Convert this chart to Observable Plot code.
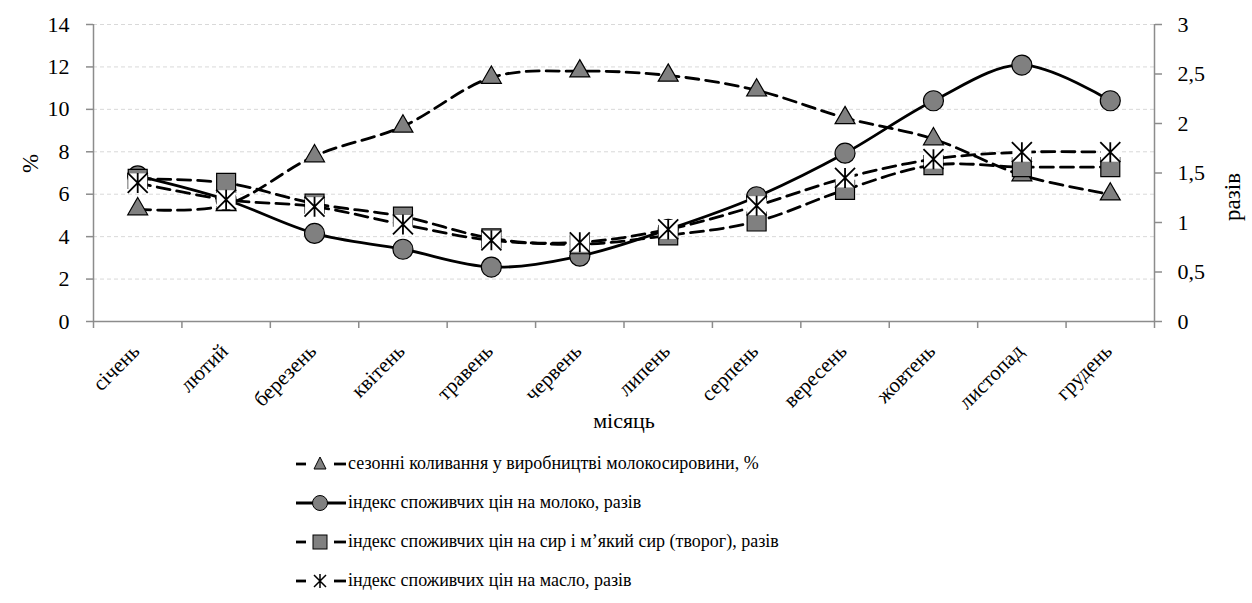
<!DOCTYPE html>
<html><head><meta charset="utf-8">
<script src="https://cdn.jsdelivr.net/npm/d3@7"></script>
<script src="https://cdn.jsdelivr.net/npm/@observablehq/plot@0.6"></script>
<style>
body{margin:0;background:#fff;}
#legend{margin-left:296px;margin-top:4px;}
.row{display:flex;align-items:center;height:39px;font-size:18px;color:#000;}
.row svg{margin-right:2px;flex:none}
</style></head><body>
<div id="chart"></div>
<div id="legend"></div>
<script>
const months = ["січень","лютий","березень","квітень","травень","червень","липень","серпень","вересень","жовтень","листопад","грудень"];
const seasonal = [5.3,5.5,7.8,9.2,11.5,11.8,11.6,10.9,9.6,8.6,6.9,6.0];
const milk   = [1.47,1.23,0.89,0.73,0.55,0.66,0.93,1.26,1.70,2.23,2.59,2.23];
const cheese = [1.44,1.40,1.19,1.06,0.84,0.78,0.87,1.01,1.33,1.58,1.56,1.56];
const butter = [1.40,1.23,1.16,0.98,0.82,0.80,0.93,1.17,1.45,1.64,1.71,1.71];
const leftTicks = [0,2,4,6,8,10,12,14];
const rightTicks = [0,0.5,1,1.5,2,2.5,3];
const legendLabels = [
  "сезонні коливання у виробництві молокосировини, %",
  "індекс споживчих цін на молоко, разів",
  "індекс споживчих цін на сир і м’який сир (творог), разів",
  "індекс споживчих цін на масло, разів"
];

// pick an installed serif font if there is one
function pickFont(list) {
  const c = document.createElement("canvas").getContext("2d");
  const s = "сезонні коливання 0123456789 abcdefghij";
  const w = f => { c.font = "40px " + f; return c.measureText(s).width; };
  const base1 = w("monospace"), base2 = w("sans-serif");
  for (const f of list) {
    if (w(`"${f}", monospace`) !== base1 && w(`"${f}", sans-serif`) !== base2) return `"${f}"`;
  }
  return "serif";
}
const FONT = pickFont(["Liberation Serif", "Times New Roman", "Tinos", "DejaVu Serif", "Noto Serif", "FreeSerif", "Nimbus Roman"]) + ", serif";
document.body.style.fontFamily = FONT;

const k = 14 / 3; // right axis (разів) -> left axis (%)
const rows = vals => vals.map((v, i) => ({i, v}));
const idx = months.map((_, i) => i);
const edges = d3.range(-0.5, 12, 1);
const grey = "#808080", axisGrey = "#8c8c8c", dash = "13,7";

const starSym = {draw(ctx, size){const h = Math.sqrt(size/Math.PI);
  ctx.moveTo(-h,-h); ctx.lineTo(h,h); ctx.moveTo(-h,h); ctx.lineTo(h,-h); ctx.moveTo(0,-h); ctx.lineTo(0,h);}};

const fmtR = d => String(Math.round(d / k * 10) / 10).replace(".", ",");

const chart = Plot.plot({
  width: 1252, height: 440,
  marginLeft: 93, marginRight: 98, marginTop: 24, marginBottom: 119,
  x: {domain: [-0.5, 11.5]},
  y: {domain: [0, 14]},
  style: {fontFamily: FONT, fontSize: "22px", color: "#000", background: "#fff"},
  marks: [
    Plot.ruleY(leftTicks.filter(d => d > 0), {stroke: "#d9d9d9", strokeDasharray: "4,3", strokeWidth: 1}),
    Plot.axisY({ticks: leftTicks, tickSize: 7, tickPadding: 17, label: null, stroke: axisGrey, strokeWidth: 1.5, fontSize: 22}),
    Plot.axisY({anchor: "right", ticks: rightTicks.map(t => t * k), tickFormat: fmtR, tickSize: 7, tickPadding: 16, label: null, stroke: axisGrey, strokeWidth: 1.5, fontSize: 22}),
    Plot.axisX({ticks: edges, tickFormat: () => "", tickSize: 7, label: null, stroke: axisGrey, strokeWidth: 1.5}),
    Plot.ruleX([-0.5, 11.5], {stroke: axisGrey, strokeWidth: 1.5}),
    Plot.ruleY([0], {stroke: axisGrey, strokeWidth: 1.5}),
    Plot.text(idx, {x: d => d, frameAnchor: "bottom", text: i => months[i], rotate: -45, textAnchor: "end", dx: 3, dy: 31, fontSize: 21}),
    Plot.text(["місяць"], {frameAnchor: "bottom", dy: 106, fontSize: 22}),
    Plot.text(["%"], {frameAnchor: "left", dx: -63, rotate: -90, fontSize: 23}),
    Plot.text(["разів"], {frameAnchor: "right", dx: 78, rotate: -90, fontSize: 23}),
    // seasonal (%)
    Plot.line(rows(seasonal), {x: "i", y: "v", curve: "cardinal", tension: 0, stroke: "#000", strokeWidth: 2.8, strokeDasharray: dash}),
    Plot.dot(rows(seasonal), {x: "i", y: "v", symbol: "triangle", r: 7.4, fill: grey, stroke: "#000", strokeWidth: 1.2}),
    // milk
    Plot.line(rows(milk), {x: "i", y: d => d.v * k, curve: "cardinal", tension: 0, stroke: "#000", strokeWidth: 2.8}),
    Plot.dot(rows(milk), {x: "i", y: d => d.v * k, r: 10, fill: grey, stroke: "#000", strokeWidth: 1.2}),
    // cheese
    Plot.line(rows(cheese), {x: "i", y: d => d.v * k, curve: "cardinal", tension: 0, stroke: "#000", strokeWidth: 2.8, strokeDasharray: dash}),
    Plot.dot(rows(cheese), {x: "i", y: d => d.v * k, symbol: "square", r: 10.7, fill: grey, stroke: "#000", strokeWidth: 1.2}),
    // butter
    Plot.line(rows(butter), {x: "i", y: d => d.v * k, curve: "cardinal", tension: 0, stroke: "#000", strokeWidth: 2.8, strokeDasharray: dash}),
    Plot.dot(rows(butter), {x: "i", y: d => d.v * k, symbol: "square", r: 10.7, fill: "#fff", stroke: "none"}),
    Plot.dot(rows(butter), {x: "i", y: d => d.v * k, symbol: starSym, r: 10, fill: "none", stroke: "#000", strokeWidth: 1.8})
  ]
});
document.getElementById("chart").appendChild(chart);

// legend
const sw = [
  `<line x1="0" y1="10" x2="10" y2="10" stroke="#000" stroke-width="2.8"/><line x1="38" y1="10" x2="50" y2="10" stroke="#000" stroke-width="2.8"/><path d="M24,3 L30,15 L18,15 Z" fill="${grey}" stroke="#000" stroke-width="1"/>`,
  `<line x1="0" y1="10" x2="50" y2="10" stroke="#000" stroke-width="2.8"/><circle cx="24" cy="10" r="7.5" fill="${grey}" stroke="#000" stroke-width="1"/>`,
  `<line x1="0" y1="10" x2="10" y2="10" stroke="#000" stroke-width="2.8"/><line x1="38" y1="10" x2="50" y2="10" stroke="#000" stroke-width="2.8"/><rect x="17" y="3" width="14" height="14" fill="${grey}" stroke="#000" stroke-width="1"/>`,
  `<line x1="0" y1="10" x2="10" y2="10" stroke="#000" stroke-width="2.8"/><line x1="38" y1="10" x2="50" y2="10" stroke="#000" stroke-width="2.8"/><path d="M18,4 L30,16 M18,16 L30,4 M24,3 L24,17" stroke="#000" stroke-width="1.5"/>`
];
const leg = document.getElementById("legend");
legendLabels.forEach((t, i) => {
  const r = document.createElement("div");
  r.className = "row";
  r.innerHTML = `<svg width="50" height="20">${sw[i]}</svg><span>${t}</span>`;
  leg.appendChild(r);
});
</script></body></html>
